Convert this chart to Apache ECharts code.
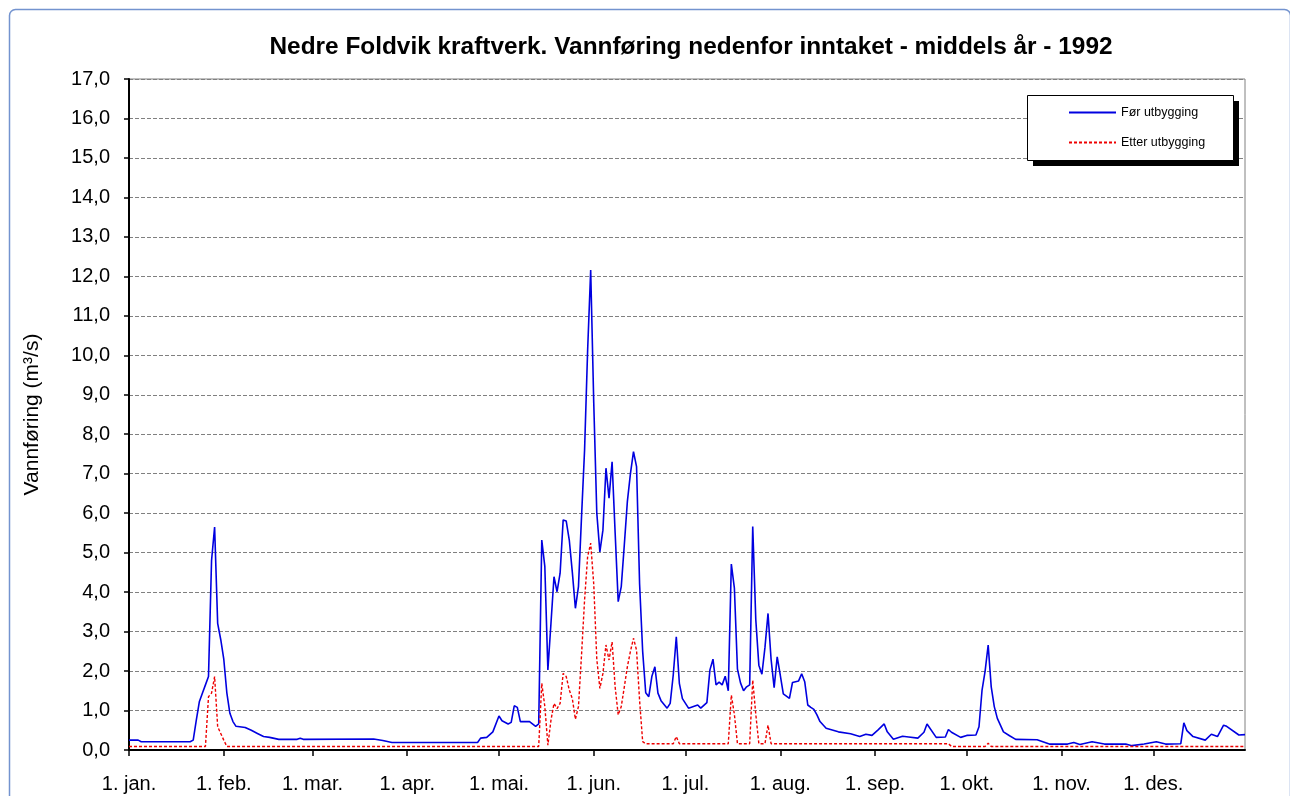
<!DOCTYPE html>
<html>
<head>
<meta charset="utf-8">
<script src="https://cdn.jsdelivr.net/npm/echarts@6/dist/echarts.min.js"></script>
<style>
  html, body { margin: 0; padding: 0; background: #ffffff; }
  #chart { width: 1290px; height: 796px; }
</style>
</head>
<body>
<div id="chart"></div>
<script>
// Day of year (0 = 1. jan.) where each month starts, 1992 (leap year)
const monthStarts = [0, 31, 60, 91, 121, 152, 182, 213, 244, 274, 305, 335];
const monthLabels = ['1. jan.', '1. feb.', '1. mar.', '1. apr.', '1. mai.', '1. jun.',
                     '1. jul.', '1. aug.', '1. sep.', '1. okt.', '1. nov.', '1. des.'];

// Før utbygging: day of year and daily flow (m³/s)
const forDays = [0, 3, 4, 20, 21, 22, 23, 24, 25, 26, 27, 28, 29, 30, 31, 32, 33, 34, 35, 38,
  40, 42, 44, 46, 49, 55, 56, 57, 80, 83, 86, 114, 115, 117, 119, 121, 122, 124, 125, 126,
  127, 128, 131, 133, 134, 135, 136, 137, 138, 139, 140, 141, 142, 143, 144, 145, 146, 147, 148, 149,
  150, 151, 152, 153, 154, 155, 156, 157, 158, 159, 160, 161, 162, 163, 164, 165, 166, 167, 168, 169,
  170, 171, 172, 173, 174, 176, 177, 178, 179, 180, 181, 183, 186, 187, 189, 190, 191, 192, 193, 194,
  195, 196, 197, 198, 199, 200, 201, 202, 203, 204, 205, 206, 207, 208, 209, 210, 211, 212, 213, 214,
  216, 217, 218, 219, 220, 221, 222, 223, 224, 225, 226, 228, 232, 236, 239, 241, 243, 245, 247, 248,
  250, 253, 255, 258, 260, 261, 264, 267, 268, 269, 272, 274, 277, 278, 279, 280, 281, 282, 283, 284,
  286, 288, 290, 297, 301, 307, 309, 311, 315, 319, 326, 328, 332, 336, 339, 344, 345, 346, 348, 352,
  354, 356, 358, 359, 363, 365];
const forFlow = [0.25, 0.25, 0.21, 0.21, 0.25, 0.75, 1.22, 1.44, 1.65, 1.86, 4.8, 5.65, 3.21, 2.8, 2.3, 1.45, 0.93, 0.72, 0.6, 0.57,
  0.5, 0.42, 0.34, 0.32, 0.27, 0.27, 0.3, 0.27, 0.28, 0.24, 0.19, 0.19, 0.3, 0.32, 0.46, 0.86, 0.74, 0.66, 0.7, 1.12,
  1.08, 0.72, 0.72, 0.6, 0.66, 5.32, 4.65, 2.03, 3.2, 4.39, 4.01, 4.48, 5.83, 5.8, 5.32, 4.5, 3.59, 4.14, 5.9, 7.6,
  10.13, 12.16, 8.8, 6.0, 5.02, 5.57, 7.14, 6.38, 7.3, 5.5, 3.76, 4.14, 5.2, 6.3, 7.0, 7.56, 7.18, 4.2, 2.5, 1.45,
  1.35, 1.86, 2.11, 1.44, 1.25, 1.06, 1.18, 1.9, 2.87, 1.69, 1.3, 1.06, 1.14, 1.06, 1.2, 2.03, 2.3, 1.65, 1.72, 1.65,
  1.87, 1.5, 4.71, 4.1, 2.05, 1.7, 1.5, 1.6, 1.65, 5.66, 3.3, 2.15, 1.92, 2.6, 3.46, 2.3, 1.58, 2.36, 1.9, 1.42,
  1.31, 1.71, 1.73, 1.75, 1.93, 1.73, 1.14, 1.08, 1.03, 0.89, 0.72, 0.55, 0.46, 0.41, 0.34, 0.4, 0.37, 0.51, 0.66, 0.46,
  0.27, 0.35, 0.33, 0.3, 0.45, 0.66, 0.32, 0.33, 0.52, 0.45, 0.32, 0.37, 0.38, 0.59, 1.52, 2.0, 2.66, 1.6, 1.1, 0.8,
  0.46, 0.36, 0.27, 0.26, 0.15, 0.15, 0.19, 0.14, 0.21, 0.15, 0.15, 0.11, 0.15, 0.21, 0.15, 0.16, 0.69, 0.49, 0.34, 0.25,
  0.4, 0.34, 0.63, 0.6, 0.38, 0.39];

// Etter utbygging: day of year and daily flow (m³/s)
const etterDays = [0, 25, 26, 27, 28, 29, 30, 31, 32, 134, 135, 136, 137, 138, 139, 140, 141, 142, 143, 144,
  145, 146, 147, 148, 149, 150, 151, 152, 153, 154, 155, 156, 157, 158, 159, 160, 161, 162, 163, 164,
  165, 166, 167, 168, 169, 178, 179, 180, 196, 197, 198, 199, 203, 204, 205, 206, 208, 209, 210, 268,
  269, 280, 281, 282, 365];
const etterFlow = [0.09, 0.09, 1.35, 1.44, 1.86, 0.59, 0.42, 0.25, 0.09, 0.09, 1.69, 1.1, 0.12, 0.75, 1.18, 1.05, 1.18, 1.94, 1.86, 1.52,
  1.3, 0.78, 1.1, 2.4, 3.8, 4.9, 5.24, 4.2, 2.3, 1.56, 1.94, 2.66, 2.28, 2.74, 1.6, 0.89, 1.1, 1.6, 2.11, 2.5,
  2.83, 2.53, 1.25, 0.21, 0.16, 0.16, 0.34, 0.16, 0.16, 1.39, 0.9, 0.16, 0.16, 1.77, 0.9, 0.16, 0.16, 0.63, 0.16, 0.16,
  0.09, 0.09, 0.17, 0.09, 0.09];

const FONT = '"Liberation Sans", Arial, sans-serif';
const zip = (xs, ys) => xs.map((x, i) => [x, ys[i]]);

// legend frame geometry
const LEG_X = 1027, LEG_Y = 95, LEG_W = 206, LEG_H = 65, LEG_SHADOW = 6;

const chart = echarts.init(document.getElementById('chart'), null, { renderer: 'canvas' });

chart.setOption({
  backgroundColor: '#ffffff',
  animation: false,
  textStyle: { fontFamily: FONT },
  title: {
    text: 'Nedre Foldvik kraftverk. Vannføring nedenfor inntaket - middels år - 1992',
    left: 686,
    textAlign: 'center',
    top: 30,
    textStyle: { fontFamily: FONT, fontSize: 24.4, fontWeight: 'bold', color: '#000000' }
  },
  graphic: [
    {
      type: 'rect',
      left: 7, top: 7,
      shape: { width: 1281, height: 820, r: 6 },
      style: { fill: 'none', stroke: '#7393cf', lineWidth: 1.5 },
      silent: true, z: -10
    },
    {
      // drop shadow of the legend frame
      type: 'rect',
      left: LEG_X + LEG_SHADOW, top: LEG_Y + LEG_SHADOW,
      shape: { width: LEG_W, height: LEG_H },
      style: { fill: '#000000' },
      silent: true, z: 5
    },
    {
      type: 'rect',
      left: LEG_X, top: LEG_Y,
      shape: { width: LEG_W, height: LEG_H },
      style: { fill: '#ffffff', stroke: '#000000', lineWidth: 1 },
      silent: true, z: 6
    }
  ],
  legend: {
    left: LEG_X, top: LEG_Y,
    orient: 'vertical',
    z: 10,
    itemWidth: 47, itemHeight: 14, itemGap: 17,
    padding: [11, 30, 10, 41],
    itemStyle: { opacity: 0 },
    textStyle: { fontFamily: FONT, fontSize: 12.5, color: '#000000' },
    data: ['Før utbygging', 'Etter utbygging']
  },
  grid: {
    left: 129, top: 79, right: 45, bottom: 46,
    show: true, borderColor: '#808080', borderWidth: 1, backgroundColor: '#ffffff'
  },
  xAxis: {
    type: 'value',
    min: 0, max: 365,
    axisLine: { show: true, onZero: false, lineStyle: { color: '#000000', width: 2 } },
    axisTick: { show: true, customValues: monthStarts, length: 6, lineStyle: { color: '#000000', width: 1.5 } },
    axisLabel: {
      customValues: monthStarts,
      margin: 24,
      fontSize: 20, color: '#000000', fontFamily: FONT,
      formatter: v => monthLabels[monthStarts.indexOf(v)] || ''
    },
    splitLine: { show: false }
  },
  yAxis: {
    type: 'value',
    min: 0, max: 17, interval: 1,
    name: 'Vannføring (m³/s)',
    nameLocation: 'middle',
    nameGap: 86,
    nameTextStyle: { fontFamily: FONT, fontSize: 21, color: '#000000' },
    axisLine: { show: true, lineStyle: { color: '#000000', width: 2 } },
    axisTick: { show: true, length: 5, lineStyle: { color: '#000000', width: 1.5 } },
    axisLabel: {
      margin: 19, fontSize: 20, color: '#000000', fontFamily: FONT,
      formatter: v => v.toFixed(1).replace('.', ',')
    },
    splitLine: { show: true, lineStyle: { color: '#808080', width: 1, type: [4, 2] } }
  },
  series: [
    {
      name: 'Før utbygging',
      type: 'line',
      symbol: 'none',
      data: zip(forDays, forFlow),
      lineStyle: { color: '#0000e0', width: 1.6 },
      itemStyle: { color: '#0000e0' },
      z: 3
    },
    {
      name: 'Etter utbygging',
      type: 'line',
      symbol: 'none',
      data: zip(etterDays, etterFlow),
      lineStyle: { color: '#ee0000', width: 1.4, type: [3, 2] },
      itemStyle: { color: '#ee0000' },
      z: 4
    }
  ]
});
</script>
</body>
</html>
